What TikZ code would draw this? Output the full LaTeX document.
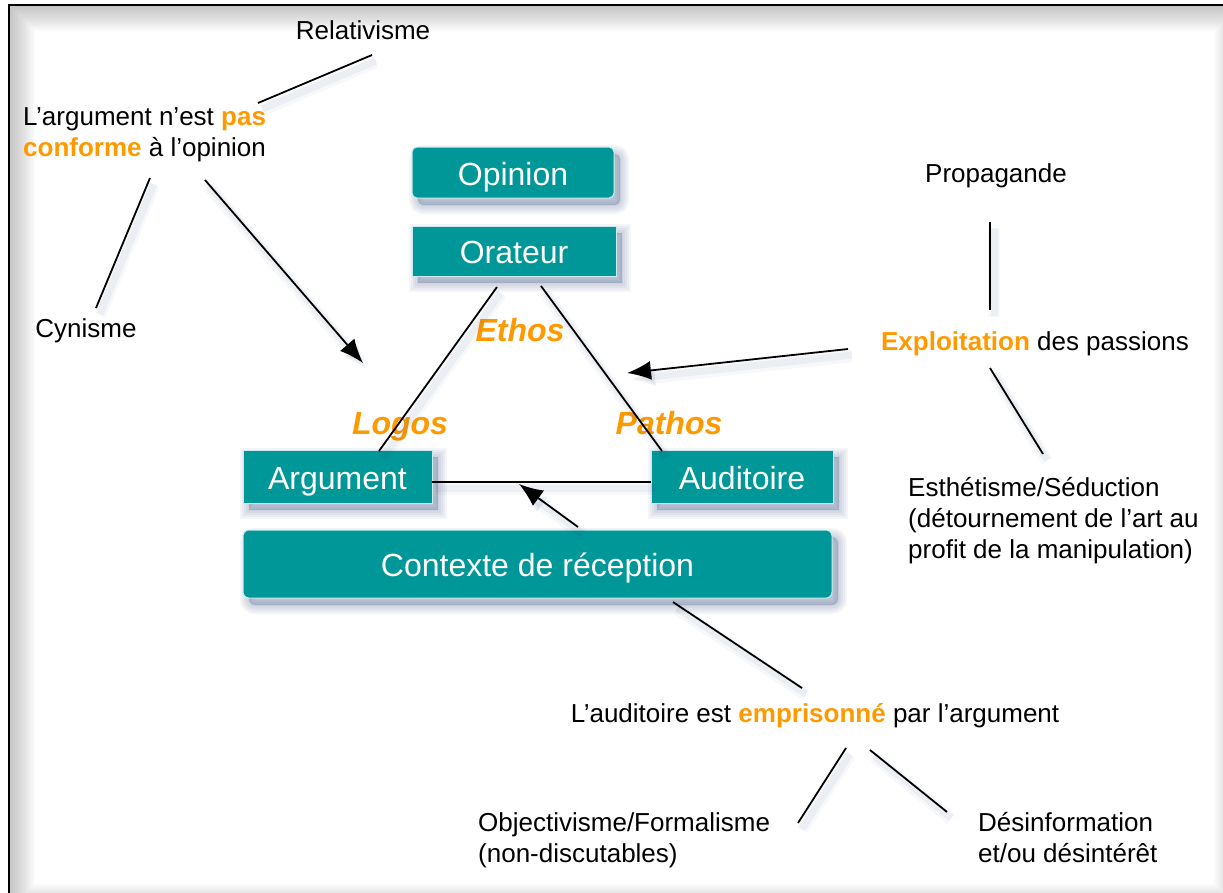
\documentclass[tikz,border=0pt]{standalone}
\usepackage{fontspec}
\setmainfont{Liberation Sans}
\usetikzlibrary{arrows.meta}
\definecolor{boxteal}{RGB}{0,151,153}
\definecolor{accent}{RGB}{255,153,0}
\definecolor{shadowblue}{RGB}{45,70,120}
\begin{document}
\begin{tikzpicture}[x=1pt,y=-1pt,
  softshade/.style={preaction={fill=shadowblue, draw=shadowblue, line width=#1, opacity=0.055,
      transform canvas={shift={(6pt,-7pt)}}}},
  box/.style={fill=boxteal, draw=white!80!boxteal, line width=1pt, text=white,
    font=\fontsize{32}{38}\selectfont, inner sep=0pt, text height=25pt, text depth=0pt,
    softshade=18pt, softshade=14pt, softshade=10pt, softshade=6pt, softshade=2pt},
  label/.style={font=\fontsize{26}{31}\selectfont, inner sep=0pt, align=left},
  greek/.style={font=\fontsize{32}{38}\selectfont\bfseries\itshape, text=accent, inner sep=0pt, anchor=base},
  link/.style={line width=1.8pt,
    preaction={draw=shadowblue, line width=12pt, opacity=0.04,
      transform canvas={shift={(4pt,-7pt)}}},
    preaction={draw=shadowblue, line width=7pt, opacity=0.06,
      transform canvas={shift={(4pt,-6pt)}}}},
  head/.style={-{Latex[length=24pt,width=19pt]}}
]
\useasboundingbox (0,0) rectangle (1223,892);

% frame with soft inner shade
\begin{scope}
  \clip (9,5) rectangle (1240,910);
  \foreach \w in {4,8,...,52}
    \draw[line width=\w pt, black, opacity=0.018] (9,5) rectangle (1240,910);
\end{scope}
\draw[line width=2.5pt] (9,910) -- (9,5) -- (1240,5);

% central boxes
\node[box, rounded corners=5pt, minimum width=202pt, minimum height=51pt] (opinion) at (513,172.5) {Opinion};
\node[box, minimum width=204pt, minimum height=50pt] (orateur) at (514,251) {Orateur};
\node[box, minimum width=189pt, minimum height=53pt] (argument) at (337.5,476.5) {Argument};
\node[box, minimum width=182pt, minimum height=53pt] (auditoire) at (742,476.5) {Auditoire};
\node[box, rounded corners=6pt, minimum width=589pt, minimum height=68pt] (contexte) at (537.5,564) {Contexte de réception};

% triangle labels
\node[greek] (ethos) at (520,341) {Ethos};
\node[greek] (logos) at (400,434) {Logos};
\node[greek] (pathos) at (669,434) {Pathos};

% outer texts
\node[label, anchor=base] (relat) at (363,39) {Relativisme};
\node[label, anchor=west] (conforme) at (23,135) {L’argument n’est \textcolor{accent}{\bfseries pas}\\\textcolor{accent}{\bfseries conforme} à l’opinion};
\node[label, anchor=base] (cynisme) at (86,337) {Cynisme};
\node[label, anchor=base] (propag) at (996,182) {Propagande};
\node[label, anchor=base] (exploit) at (1035,350) {\textcolor{accent}{\bfseries Exploitation} des passions};
\node[label, anchor=west] (esthet) at (908,521) {Esthétisme/Séduction\\(détournement de l’art au\\profit de la manipulation)};
\node[label, anchor=base] (prison) at (815,722) {L’auditoire est \textcolor{accent}{\bfseries emprisonné} par l’argument};
\node[label, anchor=west] (objectiv) at (478,840) {Objectivisme/Formalisme\\(non-discutables)};
\node[label, anchor=west] (desinfo) at (978,838) {Désinformation\\et/ou désintérêt};

% connector ends
\coordinate (orL) at (497,287);  \coordinate (argT) at (379,451);
\coordinate (orR) at (541,286);  \coordinate (audT) at (662,451);
\coordinate (argE) at (432,482); \coordinate (audW) at (651,482);
\coordinate (ctxT) at (578,527); \coordinate (baseM) at (519,484);
\coordinate (ctxB) at (673,602); \coordinate (prisT) at (802,688);
\coordinate (prisL) at (846,748); \coordinate (objT) at (798,823);
\coordinate (prisR) at (870,750); \coordinate (desT) at (947,812);
\coordinate (confR) at (258,103); \coordinate (relB) at (372,55);
\coordinate (confL) at (150,178); \coordinate (cynT) at (96,308);
\coordinate (confM) at (205,180); \coordinate (logosT) at (363,363);
\coordinate (propB) at (990,222); \coordinate (expT) at (990,310);
\coordinate (expL) at (848,349); \coordinate (pathT) at (627,373);
\coordinate (expB) at (990,368); \coordinate (estT) at (1043,454);

% connectors
\draw[link] (orL) -- (argT);
\draw[link] (orR) -- (audT);
\draw[link] (argE) -- (audW);
\draw[link, head] (ctxT) -- (baseM);
\draw[link] (ctxB) -- (prisT);
\draw[link] (prisL) -- (objT);
\draw[link] (prisR) -- (desT);
\draw[link] (confR) -- (relB);
\draw[link] (confL) -- (cynT);
\draw[link, head] (confM) -- (logosT);
\draw[link] (propB) -- (expT);
\draw[link, head] (expL) -- (pathT);
\draw[link] (expB) -- (estT);
\end{tikzpicture}
\end{document}
